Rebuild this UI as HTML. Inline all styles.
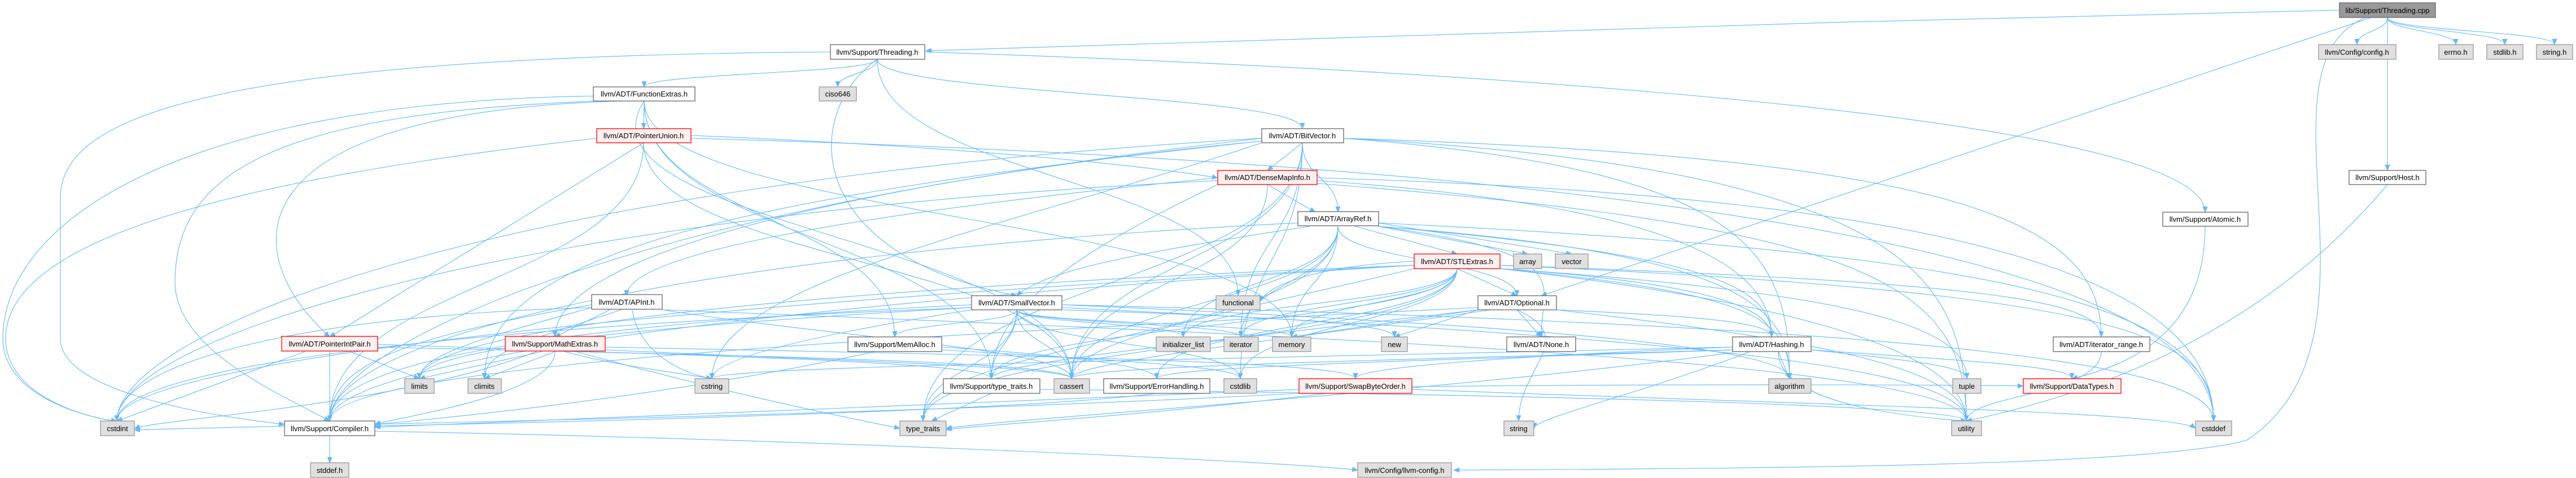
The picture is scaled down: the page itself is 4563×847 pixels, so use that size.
<!DOCTYPE html>
<html><head><meta charset="utf-8"><style>
html,body{margin:0;padding:0;background:#fff;}
svg{display:block;}
text{font-family:"Liberation Sans",Arial,sans-serif;font-size:13px;fill:#000;text-anchor:middle;}
.e{fill:none;stroke:#63b8ff;stroke-width:1.1;marker-end:url(#a);}
.w{fill:#fff;stroke:#666;stroke-width:1.3;}
.g{fill:#e0e0e0;stroke:#999;stroke-width:1.3;}
.r{fill:#fff0f0;stroke:#f00;stroke-width:1.3;}
.d{fill:#999;stroke:#666;stroke-width:1.3;}
</style></head><body>
<svg width="4563" height="847" viewBox="0 0 4563 847" xmlns="http://www.w3.org/2000/svg">
<defs><marker id="a" markerUnits="userSpaceOnUse" markerWidth="11" markerHeight="9" refX="10" refY="4.5" orient="auto"><path d="M0,0 L11,4.5 L0,9 z" fill="#63b8ff"/></marker></defs>
<g>
<path class="e" d="M4229 31C4229 55 4175 55 4175 79"/>
<path class="e" d="M4229 31C4229 55 4350 55 4350 79"/>
<path class="e" d="M4229 31C4229 55 4437 55 4437 79"/>
<path class="e" d="M4229 31C4229 55 4525 55 4525 79"/>
<path class="e" d="M4229 31C4229 166 4229 166 4229 302"/>
<path class="e" d="M4200 31L2730 524"/>
<path class="e" d="M4144 18C3300 35 2200 70 1640 90"/>
<path class="e" d="M4190 31C3980 120 4250 600 3980 780C3800 830 3000 830 2575 833"/>
<path class="e" d="M1554 105C1554 130 1141 130 1141 154"/>
<path class="e" d="M1554 105C1554 130 1484 130 1484 154"/>
<path class="e" d="M1554 105C1420 200 1420 450 1801 524"/>
<path class="e" d="M1554 105C1554 315 2193 315 2193 524"/>
<path class="e" d="M1554 105C1554 167 2307 167 2307 228"/>
<path class="e" d="M1638 92C2500 120 3906 200 3906 376"/>
<path class="e" d="M1471 92C400 100 107 200 107 350L107 600C107 700 400 740 504 752"/>
<path class="e" d="M1141 179L1140 228"/>
<path class="e" d="M1100 179C400 200 420 450 584 597"/>
<path class="e" d="M1141 179C1141 388 1585 388 1585 597"/>
<path class="e" d="M1141 179C1141 425 1756 425 1756 671"/>
<path class="e" d="M1060 179C500 200 310 300 310 500C310 620 500 700 584 746"/>
<path class="e" d="M1060 170C300 180 5 400 5 600C5 700 150 740 207 746"/>
<path class="e" d="M1141 179C1141 388 2288 388 2288 597"/>
<path class="e" d="M1141 179C1000 400 1898 425 1898 671"/>
<path class="e" d="M1224 240C1700 260 2000 290 2157 315"/>
<path class="e" d="M1140 253L584 597"/>
<path class="e" d="M1057 245C300 330 10 450 10 600C10 700 150 740 207 746"/>
<path class="e" d="M1140 253C1140 462 1898 462 1898 671"/>
<path class="e" d="M1224 245C2500 280 3921 400 3921 746"/>
<path class="e" d="M1140 253C1140 500 584 500 584 746"/>
<path class="e" d="M2307 253L2245 302"/>
<path class="e" d="M2307 253C2307 315 2370 315 2370 376"/>
<path class="e" d="M2235 245C1500 330 983 450 983 597"/>
<path class="e" d="M2380 245C3500 280 3722 400 3722 597"/>
<path class="e" d="M2380 245C3100 300 3170 450 3170 671"/>
<path class="e" d="M2307 253C2307 462 1898 462 1898 671"/>
<path class="e" d="M2235 250C1300 350 858 450 858 671"/>
<path class="e" d="M2235 245C800 330 207 600 207 746"/>
<path class="e" d="M2307 253C2307 462 2197 462 2197 671"/>
<path class="e" d="M2235 253C1800 400 1261 500 1261 671"/>
<path class="e" d="M2307 253C2307 425 2198 425 2198 597"/>
<path class="e" d="M2380 245C3400 300 3483 500 3483 746"/>
<path class="e" d="M2235 250C1200 350 584 600 584 746"/>
<path class="e" d="M2307 253C2307 500 1635 500 1635 746"/>
<path class="e" d="M2245 327L2330 376"/>
<path class="e" d="M2333 320C2900 360 3138 450 3138 597"/>
<path class="e" d="M2245 327C2245 500 1898 500 1898 671"/>
<path class="e" d="M2333 315C3500 350 3921 500 3921 746"/>
<path class="e" d="M2157 320C900 380 207 600 207 746"/>
<path class="e" d="M2157 327C1900 450 1756 550 1756 671"/>
<path class="e" d="M2333 325C3300 400 3483 500 3483 746"/>
<path class="e" d="M2157 315C1500 380 1110 450 1110 524"/>
<path class="e" d="M4229 327C4000 600 3700 700 3483 746"/>
<path class="e" d="M3906 401C3906 600 3757 650 3670 671"/>
<path class="e" d="M3722 623C3722 700 3483 700 3483 746"/>
<path class="e" d="M2320 401C2000 450 1850 480 1801 524"/>
<path class="e" d="M2400 401L2581 450"/>
<path class="e" d="M2441 401L2706 450"/>
<path class="e" d="M2441 395L2784 450"/>
<path class="e" d="M2441 401C3000 450 3138 500 3138 597"/>
<path class="e" d="M2441 401C2800 450 2730 500 2730 597"/>
<path class="e" d="M2370 401C2370 462 2687 462 2687 524"/>
<path class="e" d="M2299 395C1200 450 584 600 584 746"/>
<path class="e" d="M2441 401C3100 450 3170 550 3170 671"/>
<path class="e" d="M2370 401C2370 536 1898 536 1898 671"/>
<path class="e" d="M2441 395C3600 450 3921 550 3921 746"/>
<path class="e" d="M2370 401C2370 500 2096 500 2096 597"/>
<path class="e" d="M2370 401C2370 500 2198 500 2198 597"/>
<path class="e" d="M2370 401C2370 500 2288 500 2288 597"/>
<path class="e" d="M2370 401C2370 600 1635 600 1635 746"/>
<path class="e" d="M2581 476L2687 524"/>
<path class="e" d="M2657 476C3000 500 3138 540 3138 597"/>
<path class="e" d="M2657 470C3500 500 3722 530 3722 597"/>
<path class="e" d="M2581 476C2581 574 1756 574 1756 671"/>
<path class="e" d="M2581 476C2581 574 2049 574 2049 671"/>
<path class="e" d="M2657 476C3100 520 3170 560 3170 671"/>
<path class="e" d="M2505 476C2200 550 1898 600 1898 671"/>
<path class="e" d="M2657 470C3800 520 3921 600 3921 746"/>
<path class="e" d="M2505 470C1000 550 207 650 207 746"/>
<path class="e" d="M2581 476C2581 574 2197 574 2197 671"/>
<path class="e" d="M2505 463C2350 470 2250 500 2232 534"/>
<path class="e" d="M2581 476C2581 537 2096 537 2096 597"/>
<path class="e" d="M2581 476C2581 537 2198 537 2198 597"/>
<path class="e" d="M2505 470C1200 520 743 600 743 671"/>
<path class="e" d="M2581 476C2581 537 2288 537 2288 597"/>
<path class="e" d="M2657 476C3300 520 3484 580 3484 671"/>
<path class="e" d="M2581 476C2581 611 1635 611 1635 746"/>
<path class="e" d="M2657 476C3300 550 3483 650 3483 746"/>
<path class="e" d="M2505 470C1200 550 584 650 584 746"/>
<path class="e" d="M1080 549L983 597"/>
<path class="e" d="M1048 540C700 600 584 650 584 746"/>
<path class="e" d="M1173 549C1500 600 1898 620 1898 671"/>
<path class="e" d="M1100 549C950 600 858 620 858 671"/>
<path class="e" d="M1120 549C1130 620 1200 660 1261 671"/>
<path class="e" d="M1048 545C850 600 743 630 743 671"/>
<path class="e" d="M1173 549C2500 600 3483 650 3483 746"/>
<path class="e" d="M1048 545C500 560 207 650 207 746"/>
<path class="e" d="M1801 549C1801 573 1585 573 1585 597"/>
<path class="e" d="M1801 549C1801 610 1756 610 1756 671"/>
<path class="e" d="M1721 540C900 580 584 650 584 746"/>
<path class="e" d="M1881 540C2800 580 3170 620 3170 671"/>
<path class="e" d="M1801 549C1801 610 1898 610 1898 671"/>
<path class="e" d="M1881 540C3500 580 3921 650 3921 746"/>
<path class="e" d="M1721 545C800 580 207 650 207 746"/>
<path class="e" d="M1801 549C1801 610 2197 610 2197 671"/>
<path class="e" d="M1721 549C1400 600 1261 640 1261 671"/>
<path class="e" d="M1801 549C1801 573 2096 573 2096 597"/>
<path class="e" d="M1801 549C1801 573 2198 573 2198 597"/>
<path class="e" d="M1721 545C1100 580 743 620 743 671"/>
<path class="e" d="M1801 549C1801 573 2288 573 2288 597"/>
<path class="e" d="M1881 549C2200 560 2470 570 2470 597"/>
<path class="e" d="M1801 549C1801 650 1635 650 1635 746"/>
<path class="e" d="M1881 545C3000 600 3483 650 3483 746"/>
<path class="e" d="M2757 549C3000 560 3138 570 3138 597"/>
<path class="e" d="M2687 549L2730 597"/>
<path class="e" d="M2618 545C1500 600 584 650 584 746"/>
<path class="e" d="M2618 549C2200 600 1756 640 1756 671"/>
<path class="e" d="M2640 549C2300 600 1898 640 1898 671"/>
<path class="e" d="M2618 549L2470 597"/>
<path class="e" d="M2757 549C3200 600 3483 650 3483 746"/>
<path class="e" d="M2618 549L2288 597"/>
<path class="e" d="M2687 549C2800 600 2690 650 2690 746"/>
<path class="e" d="M584 623L584 746"/>
<path class="e" d="M669 610C1200 630 1756 640 1756 671"/>
<path class="e" d="M669 615C1300 630 1898 640 1898 671"/>
<path class="e" d="M540 623L207 746"/>
<path class="e" d="M620 623L743 671"/>
<path class="e" d="M983 623C983 700 700 740 664 752"/>
<path class="e" d="M1072 615C1800 630 2401 640 2401 671"/>
<path class="e" d="M1072 620C1500 640 1898 650 1898 671"/>
<path class="e" d="M983 623L858 671"/>
<path class="e" d="M950 623C700 720 300 740 238 759"/>
<path class="e" d="M1000 623C1100 650 1200 660 1261 671"/>
<path class="e" d="M960 623L743 671"/>
<path class="e" d="M1020 623C1300 700 1500 740 1594 759"/>
<path class="e" d="M1550 623C1200 700 800 740 664 752"/>
<path class="e" d="M1668 615C1900 630 2049 650 2049 671"/>
<path class="e" d="M1668 620C2000 640 2197 650 2197 671"/>
<path class="e" d="M3208 620C3500 640 3670 650 3670 671"/>
<path class="e" d="M3069 620C2500 640 2049 650 2049 671"/>
<path class="e" d="M3069 615C2700 630 2401 650 2401 671"/>
<path class="e" d="M3150 623L3170 671"/>
<path class="e" d="M3069 620C2400 640 1898 650 1898 671"/>
<path class="e" d="M3069 615C2000 640 1261 650 1261 671"/>
<path class="e" d="M3100 623C2900 700 2720 740 2717 759"/>
<path class="e" d="M3208 620C3400 640 3484 650 3484 671"/>
<path class="e" d="M3069 625C2500 700 1800 740 1676 759"/>
<path class="e" d="M3150 623C3150 720 3400 740 3483 746"/>
<path class="e" d="M1756 697L1650 746"/>
<path class="e" d="M1842 690C2800 700 3483 720 3483 746"/>
<path class="e" d="M2049 697C1800 730 900 750 664 755"/>
<path class="e" d="M2301 690C1600 720 900 745 664 757"/>
<path class="e" d="M2501 685C3000 680 3500 682 3584 684"/>
<path class="e" d="M2501 690C3300 720 3850 730 3889 759"/>
<path class="e" d="M2301 697C1500 740 400 755 238 762"/>
<path class="e" d="M2350 697C2000 740 1700 755 1676 762"/>
<path class="e" d="M584 772L584 820"/>
<path class="e" d="M664 764C1500 780 2300 820 2405 833"/>
</g>
<g>
<rect class="d" x="4144" y="5" width="170" height="26"/><text x="4229" y="23">lib/Support/Threading.cpp</text>
<rect class="w" x="1471" y="79" width="167" height="26"/><text x="1554" y="97">llvm/Support/Threading.h</text>
<rect class="g" x="4107" y="79" width="137" height="26"/><text x="4175" y="97">llvm/Config/config.h</text>
<rect class="g" x="4320" y="79" width="61" height="26"/><text x="4350" y="97">errno.h</text>
<rect class="g" x="4405" y="79" width="64" height="26"/><text x="4437" y="97">stdlib.h</text>
<rect class="g" x="4493" y="79" width="64" height="26"/><text x="4525" y="97">string.h</text>
<rect class="w" x="1051" y="154" width="180" height="25"/><text x="1141" y="171">llvm/ADT/FunctionExtras.h</text>
<rect class="g" x="1451" y="154" width="66" height="25"/><text x="1484" y="171">ciso646</text>
<rect class="r" x="1057" y="228" width="167" height="25"/><text x="1140" y="245">llvm/ADT/PointerUnion.h</text>
<rect class="w" x="2235" y="228" width="145" height="25"/><text x="2307" y="245">llvm/ADT/BitVector.h</text>
<rect class="r" x="2157" y="302" width="176" height="25"/><text x="2245" y="319">llvm/ADT/DenseMapInfo.h</text>
<rect class="w" x="4161" y="302" width="136" height="25"/><text x="4229" y="319">llvm/Support/Host.h</text>
<rect class="w" x="2299" y="375" width="143" height="25"/><text x="2370" y="392">llvm/ADT/ArrayRef.h</text>
<rect class="w" x="3831" y="376" width="151" height="25"/><text x="3906" y="393">llvm/Support/Atomic.h</text>
<rect class="r" x="2505" y="450" width="152" height="26"/><text x="2581" y="468">llvm/ADT/STLExtras.h</text>
<rect class="g" x="2681" y="450" width="50" height="26"/><text x="2706" y="468">array</text>
<rect class="g" x="2755" y="450" width="58" height="26"/><text x="2784" y="468">vector</text>
<rect class="w" x="1048" y="522" width="125" height="26"/><text x="1110" y="540">llvm/ADT/APInt.h</text>
<rect class="w" x="1721" y="524" width="160" height="25"/><text x="1801" y="541">llvm/ADT/SmallVector.h</text>
<rect class="g" x="2154" y="524" width="78" height="25"/><text x="2193" y="541">functional</text>
<rect class="w" x="2618" y="524" width="139" height="25"/><text x="2687" y="541">llvm/ADT/Optional.h</text>
<rect class="r" x="499" y="596" width="170" height="26"/><text x="584" y="614">llvm/ADT/PointerIntPair.h</text>
<rect class="r" x="895" y="596" width="177" height="26"/><text x="983" y="614">llvm/Support/MathExtras.h</text>
<rect class="w" x="1502" y="597" width="166" height="26"/><text x="1585" y="615">llvm/Support/MemAlloc.h</text>
<rect class="g" x="2048" y="597" width="96" height="26"/><text x="2096" y="615">initializer_list</text>
<rect class="g" x="2168" y="597" width="61" height="26"/><text x="2198" y="615">iterator</text>
<rect class="g" x="2254" y="597" width="68" height="26"/><text x="2288" y="615">memory</text>
<rect class="g" x="2447" y="597" width="46" height="26"/><text x="2470" y="615">new</text>
<rect class="w" x="2669" y="597" width="122" height="26"/><text x="2730" y="615">llvm/ADT/None.h</text>
<rect class="w" x="3069" y="597" width="139" height="26"/><text x="3138" y="615">llvm/ADT/Hashing.h</text>
<rect class="w" x="3637" y="597" width="171" height="26"/><text x="3722" y="615">llvm/ADT/iterator_range.h</text>
<rect class="g" x="717" y="671" width="52" height="26"/><text x="743" y="689">limits</text>
<rect class="g" x="829" y="671" width="59" height="26"/><text x="858" y="689">climits</text>
<rect class="g" x="1231" y="671" width="60" height="26"/><text x="1261" y="689">cstring</text>
<rect class="w" x="1671" y="671" width="171" height="26"/><text x="1756" y="689">llvm/Support/type_traits.h</text>
<rect class="g" x="1867" y="671" width="63" height="26"/><text x="1898" y="689">cassert</text>
<rect class="w" x="1955" y="671" width="188" height="26"/><text x="2049" y="689">llvm/Support/ErrorHandling.h</text>
<rect class="g" x="2168" y="671" width="58" height="26"/><text x="2197" y="689">cstdlib</text>
<rect class="r" x="2301" y="671" width="200" height="26"/><text x="2401" y="689">llvm/Support/SwapByteOrder.h</text>
<rect class="g" x="3133" y="671" width="75" height="26"/><text x="3170" y="689">algorithm</text>
<rect class="g" x="3459" y="671" width="50" height="26"/><text x="3484" y="689">tuple</text>
<rect class="r" x="3584" y="671" width="173" height="26"/><text x="3670" y="689">llvm/Support/DataTypes.h</text>
<rect class="g" x="178" y="746" width="60" height="26"/><text x="208" y="764">cstdint</text>
<rect class="w" x="504" y="746" width="160" height="26"/><text x="584" y="764">llvm/Support/Compiler.h</text>
<rect class="g" x="1594" y="746" width="82" height="26"/><text x="1635" y="764">type_traits</text>
<rect class="g" x="2664" y="746" width="53" height="26"/><text x="2690" y="764">string</text>
<rect class="g" x="3457" y="746" width="53" height="26"/><text x="3483" y="764">utility</text>
<rect class="g" x="3889" y="746" width="64" height="26"/><text x="3921" y="764">cstddef</text>
<rect class="g" x="550" y="820" width="68" height="26"/><text x="584" y="838">stddef.h</text>
<rect class="g" x="2405" y="820" width="166" height="26"/><text x="2488" y="838">llvm/Config/llvm-config.h</text>
</g>
</svg>
</body></html>
